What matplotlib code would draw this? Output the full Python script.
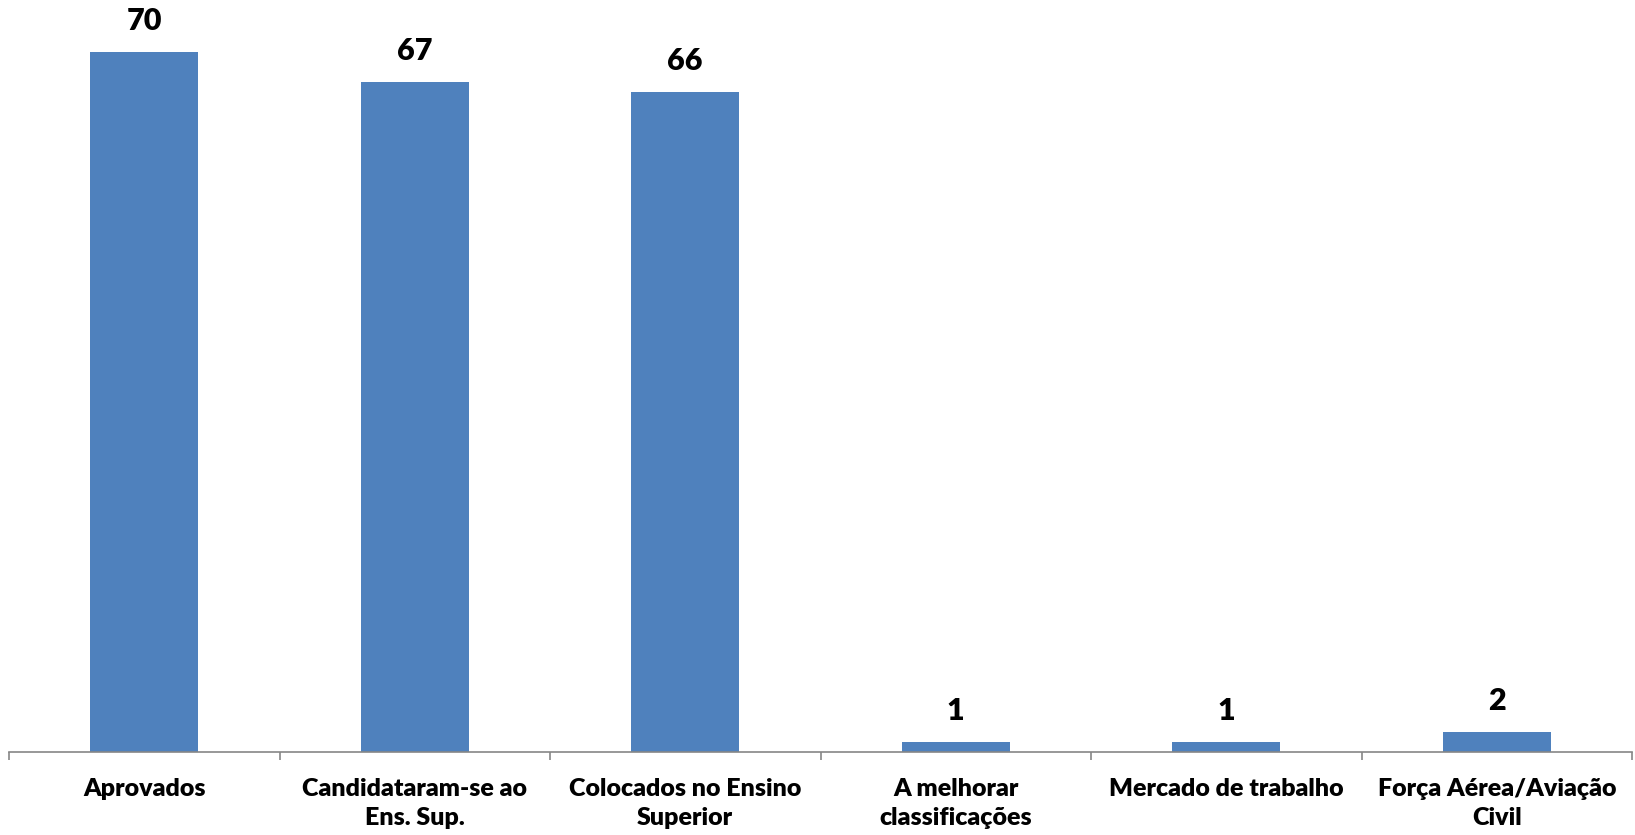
import matplotlib
matplotlib.use("Agg")
import matplotlib.pyplot as plt
import numpy as np

categories = ["Aprovados", "Candidataram-se ao\nEns. Sup.", "Colocados no Ensino\nSuperior",
              "A melhorar\nclassificações", "Mercado de trabalho", "Força Aérea/Aviação\nCivil"]
values = [70, 67, 66, 1, 1, 2]

plt.rcParams['font.family'] = ['Lato', 'DejaVu Sans']

fig = plt.figure(figsize=(16.35, 8.35), dpi=100)
ax = fig.add_axes([9/1635, 83/835, (1632-9)/1635, 750/835])
x = np.arange(len(categories))
ax.bar(x, values, width=0.4, color="#4F81BD")
ax.set_xlim(-0.5, len(categories) - 0.5)
ax.set_ylim(0, 75)

for xi, v in zip(x, values):
    ax.annotate(str(v), (xi, v), xytext=(0, 12), textcoords="offset points",
                ha="center", va="bottom", fontsize=22, fontweight="heavy", color="black")

for s in ["top", "right", "left"]:
    ax.spines[s].set_visible(False)
ax.spines["bottom"].set_color("#868686")
ax.spines["bottom"].set_linewidth(1.2)
ax.set_yticks([])
ax.set_xticks(x)
ax.set_xticklabels(categories, fontsize=18, fontweight="heavy", linespacing=1.4)
ax.tick_params(axis="x", which="major", length=0, pad=18.5)
ax.set_xticks(np.arange(-0.5, len(categories) + 0.5, 1), minor=True)
ax.tick_params(axis="x", which="minor", length=6, color="#868686", width=1.2)

fig.savefig("out.png", dpi=100)
